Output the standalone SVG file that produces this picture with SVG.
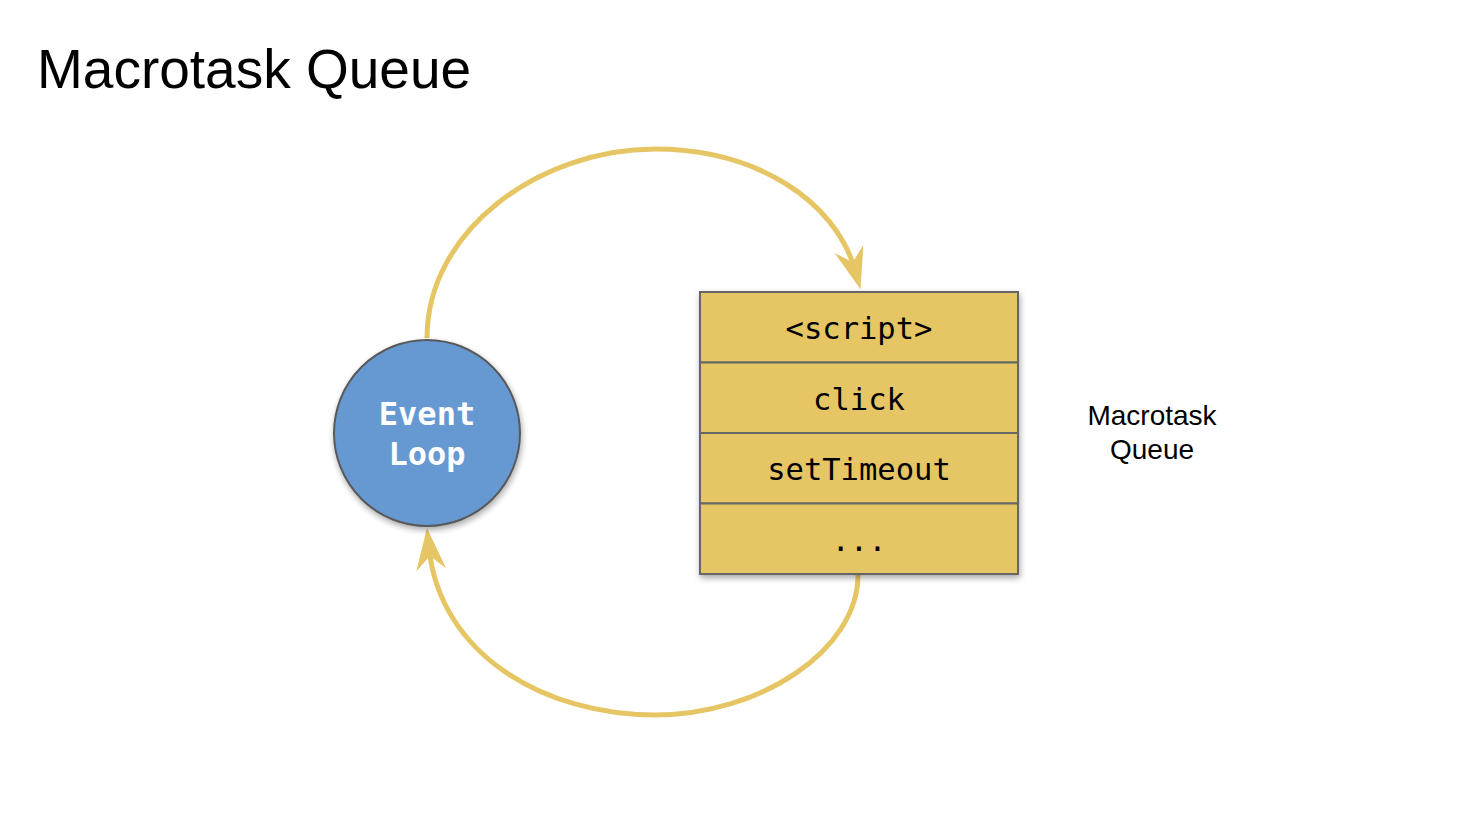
<svg xmlns="http://www.w3.org/2000/svg" width="1461" height="822" viewBox="0 0 1461 822">
<defs>
<filter id="sh" x="-20%" y="-20%" width="140%" height="140%">
<feGaussianBlur in="SourceAlpha" stdDeviation="3"/>
<feOffset dx="1" dy="3" result="b"/>
<feComponentTransfer><feFuncA type="linear" slope="0.35"/></feComponentTransfer>
<feMerge><feMergeNode/><feMergeNode in="SourceGraphic"/></feMerge>
</filter>
<marker id="ah" markerUnits="userSpaceOnUse" markerWidth="44" markerHeight="32" refX="22" refY="15" orient="auto" viewBox="0 0 44 30">
<path d="M42,15 L0,0 L14,15 L0,30 Z" fill="#e6c565"/>
</marker>
<style>
.arc{fill:none;stroke:#e6c565;stroke-width:5}
.mono{font-family:"DejaVu Sans Mono",monospace;font-size:30.5px;fill:#000;text-anchor:middle}
.row{fill:#e6c565;stroke:#666;stroke-width:2}
</style>
</defs>
<rect width="1461" height="822" fill="#fff"/>
<text x="37" y="88" font-family="Liberation Sans, Arial, sans-serif" font-size="55" fill="#000">Macrotask Queue</text>
<g id="connectors">
<path class="arc" d="M427,338 C427,230 540,149 655,149 C755,149 835,200 855,270" marker-end="url(#ah)"/>
<path class="arc" d="M858,575 C858,650 760,715 655,715 C545,715 440,655 429,548" marker-end="url(#ah)"/>
</g>
<g id="event-loop">
<circle cx="427" cy="433" r="93" fill="#6699d2" stroke="#595959" stroke-width="2" filter="url(#sh)"/>
<text x="427" y="425" font-family="DejaVu Sans Mono, monospace" font-weight="bold" font-size="32" fill="#fff" text-anchor="middle">Event</text>
<text x="427" y="465" font-family="DejaVu Sans Mono, monospace" font-weight="bold" font-size="32" fill="#fff" text-anchor="middle">Loop</text>
</g>
<g id="queue" filter="url(#sh)">
<rect class="row" x="700" y="292" width="318" height="70.5"/>
<rect class="row" x="700" y="362.5" width="318" height="70.5"/>
<rect class="row" x="700" y="433" width="318" height="70.5"/>
<rect class="row" x="700" y="503.5" width="318" height="70.5"/>
</g>
<g id="queue-text">
<text class="mono" x="859" y="339">&lt;script&gt;</text>
<text class="mono" x="859" y="410">click</text>
<text class="mono" x="859" y="480">setTimeout</text>
<text class="mono" x="859" y="551">...</text>
</g>
<g id="label">
<text font-family="Liberation Sans, Arial, sans-serif" font-size="28" fill="#000" text-anchor="middle"><tspan x="1152" y="425">Macrotask</tspan><tspan x="1152" y="459">Queue</tspan></text>
</g>
</svg>
